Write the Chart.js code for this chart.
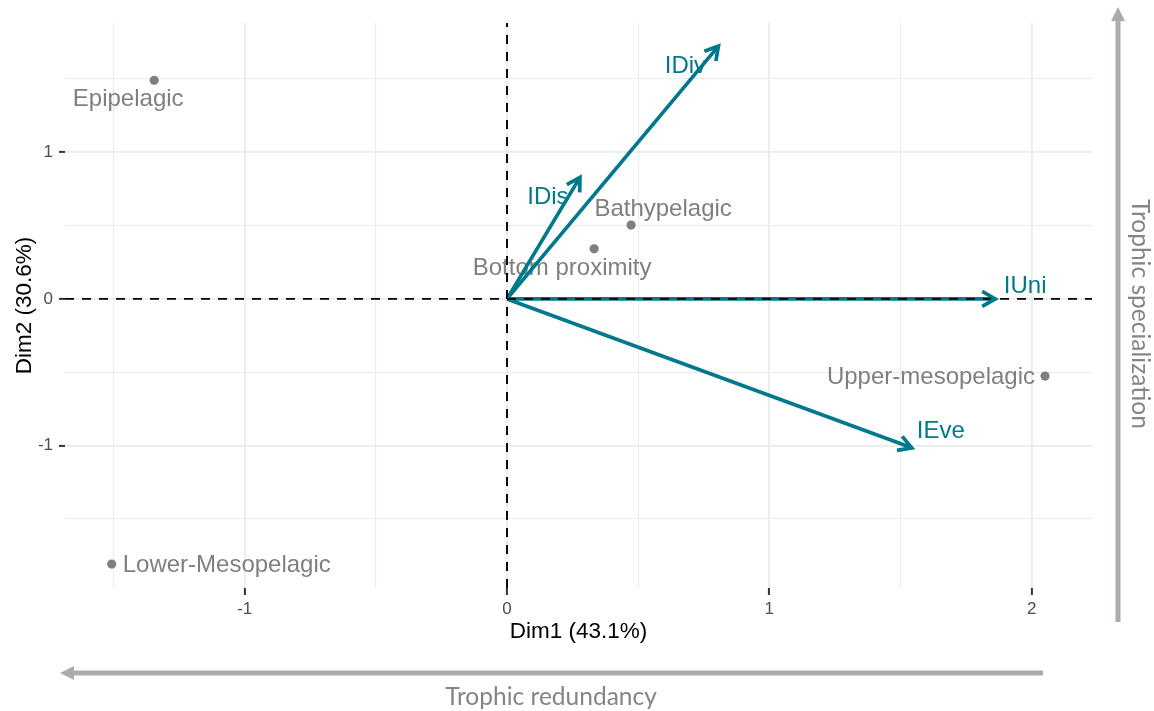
<!DOCTYPE html>
<html>
<head>
<meta charset="utf-8">
<script src="https://cdn.jsdelivr.net/npm/chart.js@4.4.1/dist/chart.umd.min.js"></script>
<style>
    body { margin: 0; background: #fff; }
    #wrap { width: 1154px; height: 711px; position: relative; }
</style>
</head>
<body>
<div id="wrap"><canvas id="biplot"></canvas></div>
<script>
// individuals (depth layers)
var pointNames = ['Epipelagic', 'Bathypelagic', 'Bottom proximity', 'Upper-mesopelagic', 'Lower-Mesopelagic'];
var pointDim1 = [-1.345, 0.473, 0.332, 2.051, -1.507];
var pointDim2 = [1.49, 0.503, 0.341, -0.526, -1.807];

// variables (arrows)
var varNames = ['IDiv', 'IDis', 'IUni', 'IEve'];
var varDim1 = [0.806, 0.278, 1.861, 1.543];
var varDim2 = [1.722, 0.828, 0.0, -1.015];

// axes
var xTicks = [-1.5, -1, -0.5, 0, 0.5, 1, 1.5, 2];
var yTicks = [-1.5, -1, -0.5, 0, 0.5, 1, 1.5];
var xRange = [-1.685, 2.23];
var yRange = [-1.97, 1.88];
var xTitle = 'Dim1 (43.1%)';
var yTitle = 'Dim2 (30.6%)';
var xNote = 'Trophic redundancy';
var yNote = 'Trophic specialization';

var teal = '#00798C';
var grey = '#7F7F7F';
var noteGrey = '#AEAAAA';
var labelFont = '24px "Liberation Sans", Arial, sans-serif';

// label nudges in pixels: dx, dy (baseline), align
var pointNudge = [[-26, 26, 'center'], [32, -9, 'center'], [-32, 26, 'center'], [-10, 8, 'right'], [11, 8, 'left']];
var varNudge = [[-33, 27], [-32, 27], [30, -6], [29, -10]];

var datasets = [];
// dashed zero lines
datasets.push({
    data: [{x: xRange[0], y: 0}, {x: xRange[1], y: 0}],
    showLine: true, borderColor: '#000', borderWidth: 1.9, borderDash: [9, 8],
    pointRadius: 0, order: 0
});
datasets.push({
    data: [{x: 0, y: yRange[0]}, {x: 0, y: yRange[1]}],
    showLine: true, borderColor: '#000', borderWidth: 1.9, borderDash: [9, 8],
    pointRadius: 0, order: 0
});
// arrows
varNames.forEach(function (name, i) {
    datasets.push({
        label: name,
        data: [{x: 0, y: 0}, {x: varDim1[i], y: varDim2[i]}],
        showLine: true, borderColor: teal, borderWidth: 3.7,
        pointRadius: 0, order: 1
    });
});
// points
datasets.push({
    data: pointDim1.map(function (x, i) { return {x: x, y: pointDim2[i]}; }),
    backgroundColor: grey, borderWidth: 0, pointRadius: 4.6, order: 2
});

function isMajor(ctx) {
    return ctx.tick && Number.isInteger(ctx.tick.value);
}

function drawArrowHead(ctx, x0, y0, x1, y1) {
    var ang = Math.atan2(y1 - y0, x1 - x0);
    var len = 15, spread = Math.PI / 6;
    ctx.beginPath();
    ctx.moveTo(x1 - len * Math.cos(ang - spread), y1 - len * Math.sin(ang - spread));
    ctx.lineTo(x1, y1);
    ctx.lineTo(x1 - len * Math.cos(ang + spread), y1 - len * Math.sin(ang + spread));
    ctx.stroke();
}

var biplotExtras = {
    id: 'biplotExtras',
    beforeDatasetsDraw: function (chart) {
        var ctx = chart.ctx, xs = chart.scales.x, ys = chart.scales.y;
        ctx.save();
        ctx.font = labelFont;
        ctx.textBaseline = 'alphabetic';
        ctx.fillStyle = grey;
        pointNames.forEach(function (name, i) {
            var px = xs.getPixelForValue(pointDim1[i]);
            var py = ys.getPixelForValue(pointDim2[i]);
            ctx.textAlign = pointNudge[i][2];
            ctx.fillText(name, px + pointNudge[i][0], py + pointNudge[i][1]);
        });
        ctx.fillStyle = teal;
        ctx.textAlign = 'center';
        varNames.forEach(function (name, i) {
            var px = xs.getPixelForValue(varDim1[i]);
            var py = ys.getPixelForValue(varDim2[i]);
            ctx.fillText(name, px + varNudge[i][0], py + varNudge[i][1]);
        });
        ctx.restore();
    },
    afterDatasetsDraw: function (chart) {
        var ctx = chart.ctx, xs = chart.scales.x, ys = chart.scales.y;
        ctx.save();
        ctx.strokeStyle = teal;
        ctx.lineWidth = 3.7;
        ctx.lineJoin = 'miter';
        ctx.lineCap = 'butt';
        varNames.forEach(function (name, i) {
            drawArrowHead(ctx, xs.getPixelForValue(0), ys.getPixelForValue(0),
                xs.getPixelForValue(varDim1[i]), ys.getPixelForValue(varDim2[i]));
        });
        ctx.restore();
    },
    afterDraw: function (chart) {
        var ctx = chart.ctx, area = chart.chartArea;
        ctx.save();
        // axis titles
        ctx.fillStyle = '#000';
        ctx.font = '22.5px "Liberation Sans", Arial, sans-serif';
        ctx.textAlign = 'center';
        ctx.textBaseline = 'alphabetic';
        ctx.fillText(xTitle, (area.left + area.right) / 2, area.bottom + 50);
        ctx.save();
        ctx.translate(31, (area.top + area.bottom) / 2);
        ctx.rotate(-Math.PI / 2);
        ctx.fillText(yTitle, 0, 0);
        ctx.restore();

        // grey notes with arrows
        ctx.fillStyle = noteGrey;
        ctx.strokeStyle = noteGrey;
        ctx.lineWidth = 5;
        ctx.beginPath();
        ctx.moveTo(1043, 673);
        ctx.lineTo(70, 673);
        ctx.stroke();
        ctx.beginPath();
        ctx.moveTo(60, 673);
        ctx.lineTo(74, 666);
        ctx.lineTo(74, 680);
        ctx.closePath();
        ctx.fill();

        ctx.beginPath();
        ctx.moveTo(1118, 622);
        ctx.lineTo(1118, 17);
        ctx.stroke();
        ctx.beginPath();
        ctx.moveTo(1118, 7);
        ctx.lineTo(1111, 21);
        ctx.lineTo(1125, 21);
        ctx.closePath();
        ctx.fill();

        ctx.fillStyle = '#858585';
        ctx.font = '24.5px Lato, "Open Sans", sans-serif';
        ctx.textAlign = 'center';
        ctx.fillText(xNote, 551, 705);
        ctx.save();
        ctx.translate(1132, 314);
        ctx.rotate(Math.PI / 2);
        ctx.fillText(yNote, 0, 0);
        ctx.restore();
        ctx.restore();
    }
};

var ctxBiplot = document.getElementById('biplot').getContext('2d');
var biplot = new Chart(ctxBiplot, {
    type: 'scatter',
    data: { datasets: datasets },
    plugins: [biplotExtras],
    options: {
        responsive: true,
        maintainAspectRatio: false,
        animation: false,
        layout: { padding: { left: 0, right: 62, top: 23, bottom: 0 } },
        plugins: {
            legend: { display: false },
            tooltip: { enabled: false }
        },
        scales: {
            x: {
                type: 'linear',
                min: xRange[0],
                max: xRange[1],
                afterBuildTicks: function (scale) {
                    scale.ticks = xTicks.map(function (v) { return {value: v}; });
                },
                afterFit: function (scale) { scale.height = 123; },
                border: { display: false },
                grid: {
                    color: '#EBEBEB',
                    lineWidth: function (c) { return isMajor(c) ? 1.8 : 1.1; },
                    tickColor: function (c) { return isMajor(c) ? '#333' : 'rgba(0,0,0,0)'; },
                    tickLength: 7,
                    tickWidth: 2
                },
                ticks: {
                    autoSkip: false,
                    maxRotation: 0,
                    padding: 4,
                    color: '#4D4D4D',
                    font: { size: 17, family: '"Liberation Sans", Arial, sans-serif' },
                    callback: function (v) { return Number.isInteger(v) ? String(v) : ''; }
                }
            },
            y: {
                type: 'linear',
                min: yRange[0],
                max: yRange[1],
                afterBuildTicks: function (scale) {
                    scale.ticks = yTicks.map(function (v) { return {value: v}; });
                },
                afterFit: function (scale) { scale.width = 65; },
                border: { display: false },
                grid: {
                    color: '#EBEBEB',
                    lineWidth: function (c) { return isMajor(c) ? 1.8 : 1.1; },
                    tickColor: function (c) { return isMajor(c) ? '#333' : 'rgba(0,0,0,0)'; },
                    tickLength: 6,
                    tickWidth: 2
                },
                ticks: {
                    autoSkip: false,
                    padding: 6,
                    color: '#4D4D4D',
                    font: { size: 17, family: '"Liberation Sans", Arial, sans-serif' },
                    callback: function (v) { return Number.isInteger(v) ? String(v) : ''; }
                }
            }
        }
    }
});
</script>
</body>
</html>
